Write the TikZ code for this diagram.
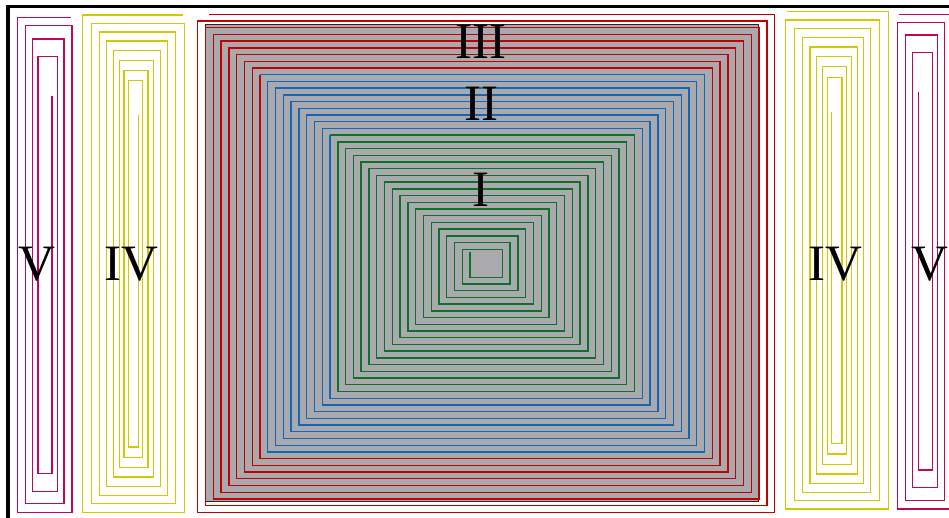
\documentclass[tikz,border=0pt]{standalone}
\usepackage{fontspec}
\setmainfont{Liberation Serif}
\definecolor{sred}{RGB}{196,0,0}
\definecolor{sblue}{RGB}{16,104,188}
\definecolor{sgreen}{RGB}{10,115,40}
\definecolor{smag}{RGB}{192,8,90}
\definecolor{syel}{RGB}{212,200,0}
\definecolor{sgray}{RGB}{170,170,174}
\begin{document}
\begin{tikzpicture}[x=1pt,y=-1pt,line join=miter,
  sp/.style={line width=1.35pt},
  sd/.style={line width=1.45pt},
  lbl/.style={inner sep=0pt,font=\fontsize{51}{60}\selectfont,text=black}]
\useasboundingbox (0,0) rectangle (949,517);
\clip (0,0) rectangle (949,517);
% frame
\draw[line width=3.3pt] (8,530) -- (8,6.7) -- (960,6.7);
% gray field
\filldraw[fill=sgray,draw=black!85,line width=1pt] (205.6,24.3) rectangle (758.6,501.7);
% central spiral: green part
\draw[sp,sgreen] (470.08,251.7) -- (470.08,277.3) -- (502.3,277.3) -- (502.3,249.3) -- (462.3,249.3)
  \foreach \m in {0,...,16}{
    -- ({462.3-7.78*\m},{277.3+6.715*(\m+1)})
    -- ({502.3+7.78*(\m+1)},{277.3+6.715*(\m+1)})
    -- ({502.3+7.78*(\m+1)},{249.3-6.715*(\m+1)})
    -- ({462.3-7.78*(\m+1)},{249.3-6.715*(\m+1)}) };
% blue part
\draw[sp,sblue] ({462.3-7.78*17},{249.3-6.715*17})
  \foreach \m in {17,...,25}{
    -- ({462.3-7.78*\m},{277.3+6.715*(\m+1)})
    -- ({502.3+7.78*(\m+1)},{277.3+6.715*(\m+1)})
    -- ({502.3+7.78*(\m+1)},{249.3-6.715*(\m+1)})
    -- ({462.3-7.78*(\m+1)},{249.3-6.715*(\m+1)}) };
% red part
\draw[sp,sred] ({462.3-7.78*26},{249.3-6.715*26})
  \foreach \m in {26,...,33}{
    -- ({462.3-7.78*\m},{277.3+6.715*(\m+1)})
    -- ({502.3+7.78*(\m+1)},{277.3+6.715*(\m+1)})
    -- ({502.3+7.78*(\m+1)},{249.3-6.715*(\m+1)})
    -- ({462.3-7.78*(\m+1)},{249.3-6.715*(\m+1)}) }
  -- ({462.3-7.78*34},{277.3+6.715*35})
  -- ({502.3+7.78*35},{277.3+6.715*35})
  -- ({502.3+7.78*35},{249.3-6.715*35})
  -- (209,{249.3-6.715*35});
% left magenta spiral
\draw[sd,smag] (52,95.7) -- (52,473.7) -- (38,473.7) -- (38,56.7) -- (57.3,56.7) -- (57.3,491.3)
  -- (32.3,491.3) -- (32.3,39) -- (64,39) -- (64,503.7) -- (25.7,503.7) -- (25.7,25.7)
  -- (72,25.7) -- (72,512.3) -- (17.3,512.3) -- (17.3,17.7) -- (71,17.7);
% left yellow spiral
\draw[sd,syel] (138.3,115) -- (138.3,447) -- (128.7,447) -- (128.7,80.3) -- (142.7,80.3)
  -- (142.7,457.3) -- (124,457.3) -- (124,70.3) -- (148,70.3) -- (148,467.3) -- (119.3,467.3)
  -- (119.3,60.3) -- (153.7,60.3) -- (153.7,477) -- (113.7,477) -- (113.7,50.7) -- (160.3,50.7)
  -- (160.3,486.3) -- (106.7,486.3) -- (106.7,41) -- (167.3,41) -- (167.3,495.3) -- (99.3,495.3)
  -- (99.3,32) -- (175.7,32) -- (175.7,503.7) -- (91.3,503.7) -- (91.3,23.7) -- (184.7,23.7)
  -- (184.7,512.3) -- (82.3,512.3) -- (82.3,15) -- (182.7,15);
% right yellow spiral
\draw[sd,syel] (831.7,112) -- (831.7,443.3) -- (842,443.3) -- (842,77.3) -- (827.3,77.3)
  -- (827.3,454) -- (846.3,454) -- (846.3,66.7) -- (822.3,66.7) -- (822.3,464.3) -- (851.3,464.3)
  -- (851.3,56.7) -- (816.7,56.7) -- (816.7,474) -- (857.3,474) -- (857.3,47) -- (810,47)
  -- (810,483.3) -- (863.3,483.3) -- (863.3,37.3) -- (802.7,37.3) -- (802.7,492.3) -- (870.7,492.3)
  -- (870.7,28.3) -- (794.3,28.3) -- (794.3,500.7) -- (879.3,500.7) -- (879.3,20) -- (785.7,20)
  -- (785.7,509) -- (888.3,509) -- (888.3,11.7) -- (787.3,11.7);
% right magenta spiral
\draw[sd,smag] (918.3,91.7) -- (918.3,470) -- (932.3,470) -- (932.3,52.7) -- (912.7,52.7)
  -- (912.7,487.3) -- (937.7,487.3) -- (937.7,35) -- (905.7,35) -- (905.7,500.7) -- (944.7,500.7)
  -- (944.7,22.7) -- (897.7,22.7) -- (897.7,509) -- (952.7,509) -- (952.7,14.3) -- (899,14.3);
% labels
\node[lbl] (t3) at (481,42) {III};
\node[lbl] (t2) at (481,104) {II};
\node[lbl] (t1) at (481,190) {I};
\node[lbl] (l5) at (37,264) {V};
\node[lbl] (l4) at (131,264) {IV};
\node[lbl] (r4) at (835,264) {IV};
\node[lbl] (r5) at (930,264) {V};
\end{tikzpicture}
\end{document}
